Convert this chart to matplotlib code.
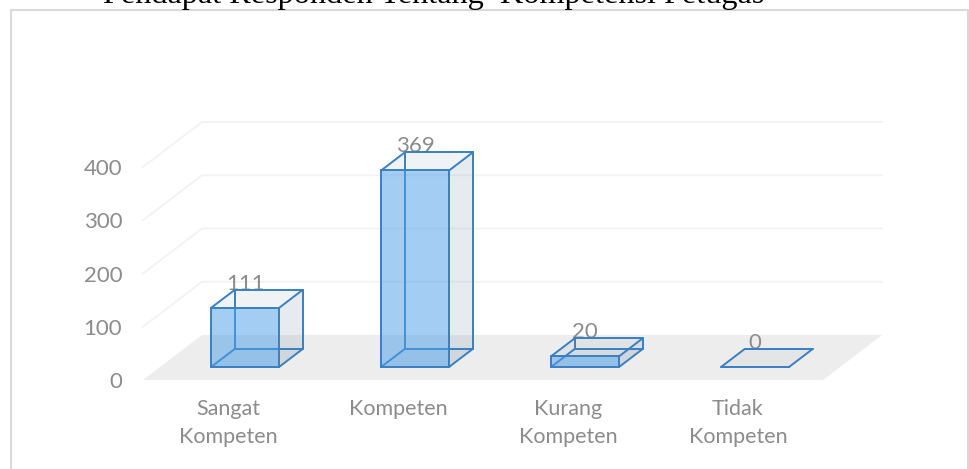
import numpy as np
import matplotlib
matplotlib.use('Agg')
import matplotlib.pyplot as plt
from matplotlib.lines import Line2D
from matplotlib.patches import Polygon

# data
categories = ['Sangat\nKompeten', 'Kompeten', 'Kurang\nKompeten', 'Tidak\nKompeten']
values = [111, 369, 20, 0]
y_ticks = [0, 100, 200, 300, 400]
title = 'Pendapat Responden Tentang  Kompetensi Petugas'

W, H = 969, 469
BLUE = '#3a7fc1'
GREY = '#8c8c8c'

# depth of the fake 3D box: shift per unit of depth, in axis units
DX = 59 / 170
DY = 45 / 0.5325
BAR_W = 0.4
Z0, Z1 = 0.29, 0.69


def proj(x, v, z):
    # oblique projection of category / value / depth onto the axes
    return (x + z * DX, v + z * DY)


def face(ax, pts, color, alpha, zorder):
    ax.add_patch(Polygon(pts, closed=True, facecolor=color, alpha=alpha,
                         edgecolor='none', clip_on=False, zorder=zorder))


def edge(ax, a, b, zorder, lw=1.4):
    ax.plot([a[0], b[0]], [a[1], b[1]], color=BLUE, lw=lw, clip_on=False,
            zorder=zorder, solid_capstyle='round')


plt.rcParams['font.family'] = ['Lato', 'DejaVu Sans']
fig = plt.figure(figsize=(W / 100, H / 100), dpi=100)
ax = fig.add_axes([143 / W, 1 - 380 / H, 680 / W, 213 / H])
ax.set_xlim(-0.5, 3.5)
ax.set_ylim(0, 400)
for s in ax.spines.values():
    s.set_visible(False)
ax.patch.set_alpha(0)

# floor
face(ax, [proj(-0.5, 0, 0), proj(3.5, 0, 0), proj(3.5, 0, 1), proj(-0.5, 0, 1)], '#ededed', 1, 1)

# gridlines run up the side wall then along the back wall
for v in y_ticks[1:]:
    a, b, c = proj(-0.5, v, 0), proj(-0.5, v, 1), proj(3.5, v, 1)
    ax.plot([a[0], b[0], c[0]], [a[1], b[1], c[1]], color='#f3f3f3', lw=1.4,
            clip_on=False, zorder=2)

for i, v in enumerate(values):
    l, r = i - BAR_W / 2, i + BAR_W / 2
    fbl, fbr = proj(l, 0, Z0), proj(r, 0, Z0)
    ftl, ftr = proj(l, v, Z0), proj(r, v, Z0)
    bbl, bbr = proj(l, 0, Z1), proj(r, 0, Z1)
    btl, btr = proj(l, v, Z1), proj(r, v, Z1)
    zb = 3 + i * 0.1
    face(ax, [fbl, fbr, bbr, bbl], '#708ca8', 0.08, zb)
    if v > 0:
        face(ax, [fbr, bbr, btr, ftr], '#708ca8', 0.17, zb)
        face(ax, [ftl, ftr, btr, btl], '#708ca8', 0.10, zb)
        for a, b in [(bbl, btl), (bbl, bbr), (bbl, fbl)]:
            edge(ax, a, b, zb + 0.01)
        face(ax, [fbl, fbr, ftr, ftl], '#4f9fe8', 0.52, zb + 0.02)
        for a, b in [(fbl, fbr), (fbr, ftr), (ftr, ftl), (ftl, fbl), (bbr, fbr),
                     (btl, ftl), (btr, ftr), (btl, btr), (btr, bbr)]:
            edge(ax, a, b, zb + 0.03)
    else:
        for a, b in [(fbl, fbr), (fbr, bbr), (bbr, bbl), (bbl, fbl)]:
            edge(ax, a, b, zb + 0.03)
    # value label sits on the back edge of the top face
    ax.text(proj(i, 0, Z0)[0], proj(i, v, Z1)[1], str(v), ha='center', va='baseline',
            fontsize=16, color=GREY, clip_on=False, zorder=2.5)

ax.set_yticks(y_ticks)
ax.set_xticks(range(len(categories)))
ax.set_xticklabels(categories, linespacing=1.5)
ax.tick_params(axis='y', length=0, pad=15, labelsize=16, labelcolor=GREY)
ax.tick_params(axis='x', length=0, pad=14, labelsize=15.5, labelcolor=GREY)

# chart frame, cut by the bottom of the image
frame_x0, frame_x1, frame_y = 10.5 / W, 968 / W, 1 - 10.5 / H
fig.add_artist(Line2D([frame_x0, frame_x0, frame_x1, frame_x1], [0, frame_y, frame_y, 0],
                      color='#d9d9d9', lw=1.5))

# title is cut by the top of the image
fig.text(434 / W, 1 - 3.5 / H, title, ha='center', va='baseline', fontsize=23.2,
         family='Liberation Serif', color='black')

fig.savefig('out.png', dpi=100)
